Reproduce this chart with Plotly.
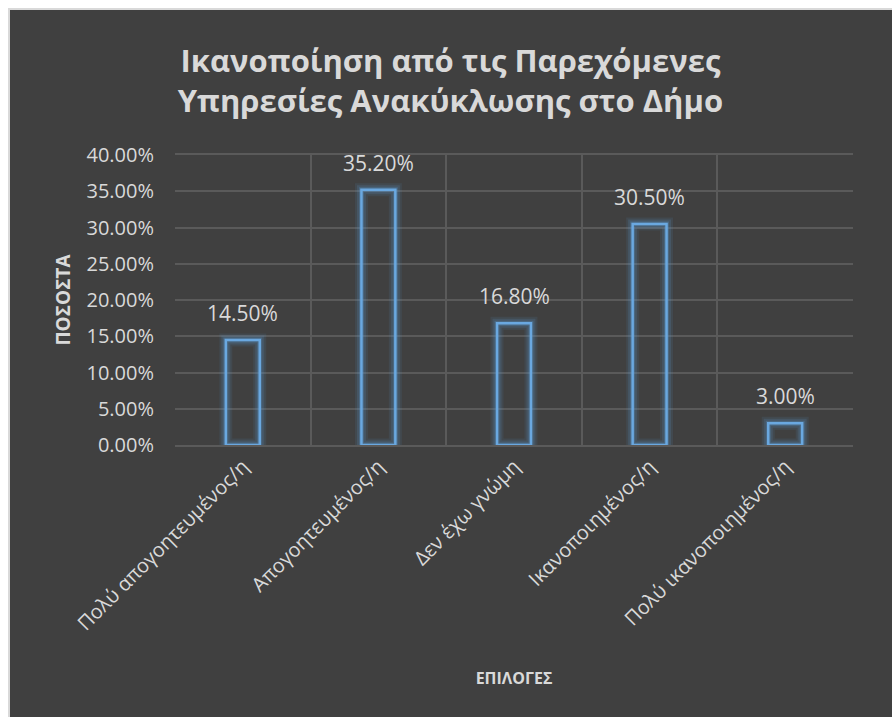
import plotly.graph_objects as go

# Survey answers and their shares (percent)
categories = [
    "Πολύ απογοητευμένος/η",
    "Απογοητευμένος/η",
    "Δεν έχω γνώμη",
    "Ικανοποιημένος/η",
    "Πολύ ικανοποιημένος/η",
]
shares = [14.5, 35.2, 16.8, 30.5, 3.0]
y_ticks = [0, 5, 10, 15, 20, 25, 30, 35, 40]
y_tick_text = [f"{v:.2f}%" for v in y_ticks]

title_text = "Ικανοποίηση από τις Παρεχόμενες<br>Υπηρεσίες Ανακύκλωσης στο Δήμο"

W, H = 892, 717
ML, MR, MT, MB = 175, 39, 155, 272
PW, PH = W - ML - MR, H - MT - MB

BG = "#404040"
TXT = "#d9d9d9"
GRID = "#5a5a5a"
FONT = "Open Sans"

fig = go.Figure()

# soft glow behind each bar outline
for w, a in [(13, 0.10), (9, 0.16), (5, 0.28)]:
    fig.add_trace(go.Bar(
        x=categories, y=shares, width=0.25,
        marker=dict(color="rgba(0,0,0,0)", line=dict(color=f"rgba(91,155,213,{a})", width=w)),
        hoverinfo="skip", showlegend=False,
    ))

fig.add_trace(go.Bar(
    x=categories, y=shares, width=0.25,
    marker=dict(color="rgba(0,0,0,0)", line=dict(color="#6aa8e0", width=2.5)),
    showlegend=False,
))

# value labels above bars
for c, v in zip(categories, shares):
    fig.add_annotation(
        x=c, y=v, text=f"{v:.2f}%", showarrow=False,
        yanchor="middle", yshift=27,
        font=dict(family=FONT, size=21, color=TXT),
    )

# dark chart background with a light frame
x0 = (9 - ML) / PW
x1 = (W + 5 - ML) / PW
y0 = -(H + 5 - MT - PH) / PH
y1 = (H - MB - 9) / PH
fig.add_shape(type="rect", xref="paper", yref="paper",
              x0=x0, x1=x1, y0=y0, y1=y1,
              fillcolor=BG, line=dict(color="#d9d9d9", width=2), layer="below")

fig.update_layout(
    width=W, height=H,
    margin=dict(l=ML, r=MR, t=MT, b=MB),
    paper_bgcolor="white", plot_bgcolor="rgba(0,0,0,0)",
    barmode="overlay",
    title=dict(text=title_text, x=0.505, xanchor="center", y=0.9, yanchor="middle",
               font=dict(family=FONT, size=31, color=TXT, weight="bold")),
    xaxis=dict(
        type="category", tickson="boundaries", showgrid=True, gridcolor=GRID, gridwidth=1.5,
        tickangle=-45, tickfont=dict(family=FONT, size=20, color=TXT),
        ticks="", showline=True, linecolor=GRID, linewidth=1.5, mirror=True,
        title=dict(text="ΕΠΙΛΟΓΕΣ", font=dict(family=FONT, size=16, color=TXT, weight="bold"), standoff=38),
        range=[-0.5, 4.5],
    ),
    yaxis=dict(
        range=[0, 40], tickvals=y_ticks, ticktext=y_tick_text,
        showgrid=True, gridcolor=GRID, gridwidth=1.5, zeroline=False,
        tickfont=dict(family=FONT, size=20, color=TXT), ticklabelstandoff=20,
        title=dict(text="ΠΟΣΟΣΤΑ", font=dict(family=FONT, size=19, color=TXT, weight="bold"), standoff=10),
    ),
)

fig.write_html("out.html")
